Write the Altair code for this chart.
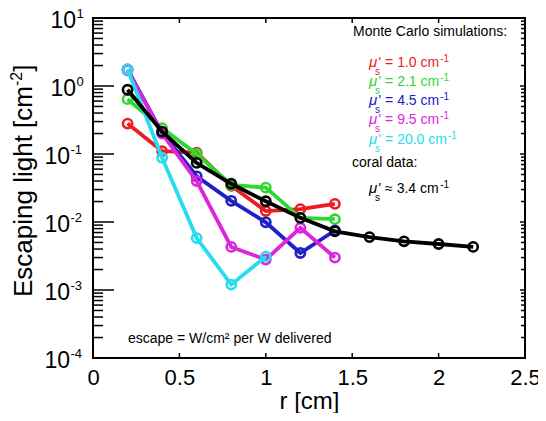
import altair as alt
import pandas as pd

# ---------------- data ----------------
r_sim = [0.2, 0.4, 0.6, 0.8, 1.0, 1.2, 1.4]
esc_mu_1_0 = [0.28, 0.11, 0.105, 0.034, 0.0145, 0.0155, 0.0185]
esc_mu_2_1 = [0.64, 0.24, 0.1, 0.035, 0.032, 0.0115, 0.011]
esc_mu_4_5 = [1.75, 0.205, 0.047, 0.0205, 0.0099, 0.0035, 0.0075]
esc_mu_9_5 = [1.7, 0.2, 0.04, 0.0043, 0.0028, 0.0082, 0.003]
r_mu_20 = [0.2, 0.4, 0.6, 0.8, 1.0]
esc_mu_20_0 = [1.75, 0.088, 0.0058, 0.0012, 0.0031]
r_coral = [0.2, 0.4, 0.6, 0.8, 1.0, 1.2, 1.4, 1.6, 1.8, 2.0, 2.2]
esc_coral = [0.88, 0.213, 0.074, 0.0365, 0.0202, 0.0115, 0.0073, 0.006, 0.0052, 0.00475, 0.0043]

series_names = ["1.0", "2.1", "4.5", "9.5", "20.0"]
series_colors = ["#ec1c24", "#2fd82f", "#2020c4", "#dd25dd", "#28dcee"]
coral_label = "3.4"

x_ticks = [0, 0.5, 1, 1.5, 2, 2.5]
y_decades = [1e-4, 1e-3, 1e-2, 1e-1, 1, 10]
y_exponents = ["-4", "-3", "-2", "-1", "0", "1"]

# ---------------- layout ----------------
W, H = 432, 340
FONT = "Liberation Sans"
X_MIN, X_MAX = 0, 2.5
Y_MIN, Y_MAX = 1e-4, 10
PX_PER_X = W / (X_MAX - X_MIN)   # pixels per cm
PX_PER_DEC = H / 5               # pixels per decade

x_scale = alt.Scale(domain=[X_MIN, X_MAX], nice=False, zero=False)
y_scale = alt.Scale(type="log", domain=[Y_MIN, Y_MAX], nice=False)


def Xn(field="r"):
    return alt.X(f"{field}:Q", scale=x_scale, axis=None)


def Yn(field="val"):
    return alt.Y(f"{field}:Q", scale=y_scale, axis=None)


layers = []

# ---- labelled x axis (carried by an invisible mark) ----
x_axis = alt.Axis(
    values=x_ticks, format="~g", orient="bottom", ticks=False, domain=False, grid=False,
    labelFont=FONT, labelFontSize=22, labelPadding=9, labelColor="black",
    labelFlush=False, labelOverlap=False,
    title="r [cm]", titleFont=FONT, titleFontSize=24, titleFontWeight="normal",
    titleColor="black", titleX=W / 2, titleY=43, titleBaseline="middle",
)
df_xt = pd.DataFrame({"r": x_ticks})
layers.append(alt.Chart(df_xt).mark_point(opacity=0, size=1).encode(
    x=alt.X("r:Q", scale=x_scale, axis=x_axis)))

# ---- inward tick marks of the MATLAB-style box, as short line segments ----
y_minor = [m * d for d in y_decades[:-1] for m in range(2, 10)]
seg = []


def hseg(tag, vals, length, right=False):
    for i, v in enumerate(vals):
        x0 = X_MAX if right else X_MIN
        x1 = x0 - length / PX_PER_X if right else x0 + length / PX_PER_X
        seg.append({"id": f"{tag}{i}", "r": x0, "val": v})
        seg.append({"id": f"{tag}{i}", "r": x1, "val": v})


def vseg(tag, rs, length, top=False):
    for i, r in enumerate(rs):
        v0 = Y_MAX if top else Y_MIN
        fac = 10 ** (length / PX_PER_DEC)
        v1 = v0 / fac if top else v0 * fac
        seg.append({"id": f"{tag}{i}", "r": r, "val": v0})
        seg.append({"id": f"{tag}{i}", "r": r, "val": v1})


hseg("LM", y_decades, 21)
hseg("Lm", y_minor, 10)
hseg("RM", y_decades, 5, right=True)
hseg("Rm", y_minor, 4, right=True)
vseg("B", x_ticks[1:-1], 5)
vseg("T", x_ticks[1:-1], 5, top=True)
df_seg = pd.DataFrame(seg)
layers.append(alt.Chart(df_seg).mark_line(color="black", strokeWidth=1.5).encode(
    x=Xn(), y=Yn(), detail="id:N"))

# box frame as four edges
frame = []
for k, (ra, va, rb, vb) in enumerate([
    (X_MIN, Y_MIN, X_MAX, Y_MIN), (X_MIN, Y_MAX, X_MAX, Y_MAX),
    (X_MIN, Y_MIN, X_MIN, Y_MAX), (X_MAX, Y_MIN, X_MAX, Y_MAX),
]):
    frame.append({"id": f"F{k}", "r": ra, "val": va})
    frame.append({"id": f"F{k}", "r": rb, "val": vb})
layers.append(alt.Chart(pd.DataFrame(frame)).mark_line(color="black", strokeWidth=2).encode(
    x=Xn(), y=Yn(), detail="id:N"))

# ---- y tick labels: 10 with superscript exponent ----
df_ylab = pd.DataFrame({"val": y_decades, "exp": y_exponents})
df_pos = df_ylab[df_ylab["val"] >= 1]
df_neg = df_ylab[df_ylab["val"] < 1]
for dfl, xr in [(df_pos, -17), (df_neg, -23)]:
    layers.append(alt.Chart(dfl).mark_text(
        font=FONT, fontSize=23, align="right", baseline="middle", dy=2.5, color="black"
    ).encode(y=Yn(), x=alt.value(xr), text=alt.value("10")))
    layers.append(alt.Chart(dfl).mark_text(
        font=FONT, fontSize=13, align="left", baseline="alphabetic", dy=-0.5, color="black"
    ).encode(y=Yn(), x=alt.value(xr + 0.5), text="exp:N"))

# ---- data series ----
sim_vals = [esc_mu_1_0, esc_mu_2_1, esc_mu_4_5, esc_mu_9_5, esc_mu_20_0]
sim_rs = [r_sim, r_sim, r_sim, r_sim, r_mu_20]
all_series = list(zip(sim_rs, sim_vals, series_colors)) + [(r_coral, esc_coral, "#000000")]
for rs, vals, col in all_series:
    df = pd.DataFrame({"r": rs, "val": vals})
    base = alt.Chart(df)
    layers.append(base.mark_line(color=col, strokeWidth=3.8).encode(x=Xn(), y=Yn()))
    layers.append(base.mark_point(shape="circle", filled=False, color=col,
                                  size=85, strokeWidth=2.6, opacity=1).encode(x=Xn(), y=Yn()))


# ---- annotation text ----
def txt(s, x, y, size=14, color="black", style="normal", align="left",
        baseline="alphabetic", angle=0):
    return alt.Chart(pd.DataFrame({"t": [s]})).mark_text(
        font=FONT, fontSize=size, color=color, fontStyle=style,
        align=align, baseline=baseline, angle=angle,
    ).encode(text="t:N", x=alt.value(x), y=alt.value(y))


# y-axis title (rotated), with superscript
TX = -61
ty0 = 279
w_main = 26 * 8.114
w_sup = 16 * 0.889
layers.append(txt("Escaping light [cm", TX, ty0, size=26, angle=270))
layers.append(txt("-2", TX - 10, ty0 - w_main, size=16, angle=270))
layers.append(txt("]", TX, ty0 - w_main - w_sup, size=26, angle=270))

layers.append(txt("Monte Carlo simulations:", 260, 18))

MU_X, MAIN_X = 276, 285.5
CHAR_W = 14 * 0.556
W_BASE = 14 * (0.191 + 0.278 + 0.584 + 0.278 + 0.278 + 0.278 + 0.5 + 0.833)
for i, (name, col) in enumerate(zip(series_names, series_colors)):
    b = 48.5 + 19.3 * i
    w = W_BASE + CHAR_W * (len(name) - 1)
    layers.append(txt("\u03bc", MU_X, b, size=15, color=col, style="italic"))
    layers.append(txt("s", MU_X + 6, b + 8, size=10, color=col))
    layers.append(txt(f"' = {name} cm", MAIN_X, b, color=col))
    layers.append(txt("-1", MAIN_X + w + 1, b - 5, size=10, color=col))

layers.append(txt("coral data:", 259, 149))
b = 175
w = W_BASE + CHAR_W * (len(coral_label) - 1)
layers.append(txt("\u03bc", MU_X, b, size=15, style="italic"))
layers.append(txt("s", MU_X + 6, b + 8, size=10))
layers.append(txt(f"' \u2248 {coral_label} cm", MAIN_X, b))
layers.append(txt("-1", MAIN_X + w + 1, b - 5, size=10))

layers.append(txt("escape = W/cm\u00b2 per W delivered", 35, 325))

chart = alt.layer(*layers).resolve_axis(x="independent", y="independent").properties(
    width=W, height=H,
    padding={"left": 85, "top": 10, "right": 13, "bottom": 55},
    autosize=alt.AutoSizeParams(type="none"),
    background="white",
).configure_view(stroke="black", strokeWidth=2)

chart.save("out.html", embed_options={"renderer": "svg", "actions": False})
